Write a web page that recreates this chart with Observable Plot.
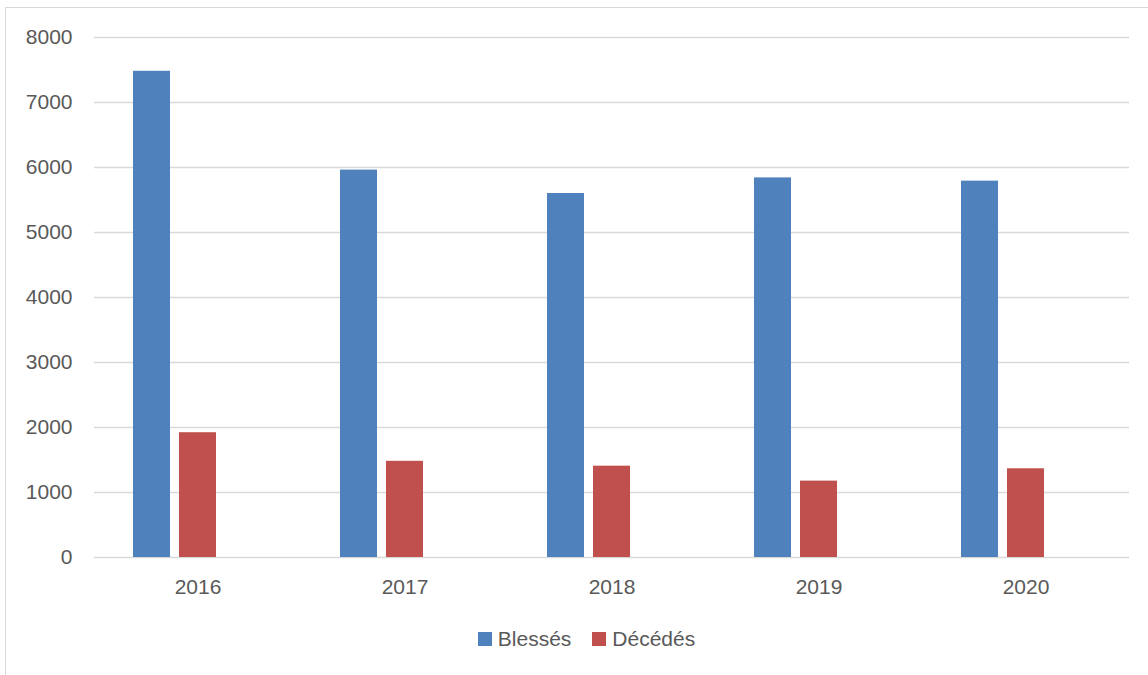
<!DOCTYPE html>
<html>
<head>
<meta charset="utf-8">
<script src="https://cdn.jsdelivr.net/npm/d3@7"></script>
<script src="https://cdn.jsdelivr.net/npm/@observablehq/plot@0.6"></script>
<style>
  html, body { margin: 0; padding: 0; background: #fff; }
  body { width: 1148px; height: 675px; position: relative; overflow: hidden; font-family: "Liberation Sans", Arial, sans-serif; }
  #frame { position: absolute; left: 5px; top: 7px; width: 1300px; height: 800px; border: 1.5px solid #d9d9d9; box-sizing: border-box; }
  #chart { position: absolute; left: 0; top: 0; }
  #legend { position: absolute; top: 627px; left: 0; width: 1148px; display: flex; justify-content: center; gap: 21px; padding-left: 25px; box-sizing: border-box; font-size: 21px; color: #595959; }
  .item { display: flex; align-items: center; gap: 6px; }
  .sw { width: 14px; height: 14px; display: inline-block; }
</style>
</head>
<body>
<div id="frame"></div>
<div id="chart"></div>
<div id="legend"></div>
<script>
const years = ["2016", "2017", "2018", "2019", "2020"];
const series = ["Blessés", "Décédés"];
const blesses = [7480, 5960, 5600, 5840, 5790];
const deces = [1920, 1480, 1405, 1175, 1365];
const colors = ["#4F81BD", "#C0504D"];
const yTicks = [0, 1000, 2000, 3000, 4000, 5000, 6000, 7000, 8000];

const data = [];
years.forEach((yr, i) => {
  data.push({year: yr, series: series[0], value: blesses[i]});
  data.push({year: yr, series: series[1], value: deces[i]});
});

const chart = Plot.plot({
  width: 1148,
  height: 600,
  marginLeft: 94,
  marginRight: 19,
  marginTop: 37,
  marginBottom: 43,
  style: {fontFamily: "'Liberation Sans', Arial, sans-serif", fontSize: "21px", color: "#595959", background: "transparent"},
  fx: {domain: years, padding: 0, label: null, axis: "bottom", tickSize: 0, tickPadding: 22},
  x: {domain: [...series, "_"], paddingInner: 0.2, paddingOuter: 0.85, axis: null},
  y: {domain: [0, 8000], ticks: yTicks, tickSize: 0, tickPadding: 22, label: null, tickFormat: d => String(d)},
  color: {domain: series, range: colors},
  marks: [
    Plot.gridY(yTicks, {stroke: "#d9d9d9", strokeOpacity: 1, strokeWidth: 1.4}),
    Plot.barY(data, {fx: "year", x: "series", y: "value", fill: "series"})
  ]
});
document.getElementById("chart").appendChild(chart);

const legend = document.getElementById("legend");
series.forEach((s, i) => {
  const item = document.createElement("div");
  item.className = "item";
  const sw = document.createElement("span");
  sw.className = "sw";
  sw.style.background = colors[i];
  const t = document.createElement("span");
  t.textContent = s;
  item.appendChild(sw);
  item.appendChild(t);
  legend.appendChild(item);
});
</script>
</body>
</html>
